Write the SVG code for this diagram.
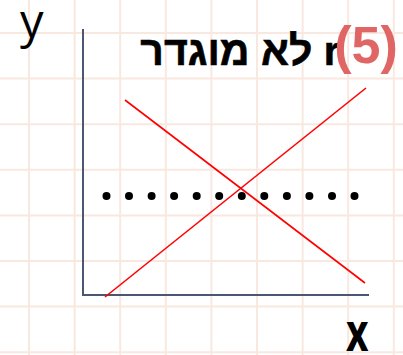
<svg xmlns="http://www.w3.org/2000/svg" width="403" height="355" viewBox="0 0 403 355">
<style>
.grid line{stroke:#f9e8e0;stroke-width:2}
.axis{stroke:#4b5670;stroke-width:2;fill:none}
.red{stroke:#ff0000;stroke-width:1.6}
.dot{fill:#000}
.lbl{font-family:"Open Sans","Liberation Sans",sans-serif;fill:#000}
</style>
<rect width="403" height="355" fill="#fff"/>
<g class="grid">
<line x1="29" y1="0" x2="29" y2="355"/><line x1="74.6" y1="0" x2="74.6" y2="355"/><line x1="120.2" y1="0" x2="120.2" y2="355"/><line x1="165.8" y1="0" x2="165.8" y2="355"/><line x1="211.4" y1="0" x2="211.4" y2="355"/><line x1="257" y1="0" x2="257" y2="355"/><line x1="302.6" y1="0" x2="302.6" y2="355"/><line x1="348.2" y1="0" x2="348.2" y2="355"/><line x1="393.8" y1="0" x2="393.8" y2="355"/>
<line x1="0" y1="33" x2="403" y2="33"/><line x1="0" y1="78.6" x2="403" y2="78.6"/><line x1="0" y1="124.2" x2="403" y2="124.2"/><line x1="0" y1="169.8" x2="403" y2="169.8"/><line x1="0" y1="215.4" x2="403" y2="215.4"/><line x1="0" y1="261" x2="403" y2="261"/><line x1="0" y1="306.6" x2="403" y2="306.6"/><line x1="0" y1="352.2" x2="403" y2="352.2"/>
</g>
<g id="axes">
<path class="axis" d="M83 29 V295 H369"/>
</g>
<g id="connectors">
<line class="red" x1="125" y1="100" x2="365" y2="283"/>
<line class="red" x1="105" y1="297" x2="366" y2="88"/>
</g>
<g id="dots">
<circle class="dot" cx="106.5" cy="196" r="4"/><circle class="dot" cx="129" cy="196" r="4"/><circle class="dot" cx="151.6" cy="196" r="4"/><circle class="dot" cx="174.1" cy="196" r="4"/><circle class="dot" cx="196.7" cy="196" r="4"/><circle class="dot" cx="219.2" cy="196" r="4"/><circle class="dot" cx="241.8" cy="196" r="4"/><circle class="dot" cx="264.3" cy="196" r="4"/><circle class="dot" cx="286.9" cy="196" r="4"/><circle class="dot" cx="309.4" cy="196" r="4"/><circle class="dot" cx="332" cy="196" r="4"/><circle class="dot" cx="354.5" cy="196" r="4"/>
</g>
<g id="label-y"><text class="lbl" x="20" y="38" font-size="47">y</text></g>
<g id="label-x"><text class="lbl" font-weight="bold" font-size="54" transform="translate(346 351) scale(0.72 1)">x</text></g>
<g id="title">
<text x="240" y="65" font-family="'Liberation Sans',sans-serif" font-weight="bold" font-size="41" direction="rtl" text-anchor="middle" fill="#000" stroke="#000" stroke-width="0.6">r לא מוגדר</text>
<text x="366" y="63" font-family="'Liberation Sans',sans-serif" font-weight="bold" font-size="52" text-anchor="middle" fill="#e06666">(5)</text>
</g>
</svg>
